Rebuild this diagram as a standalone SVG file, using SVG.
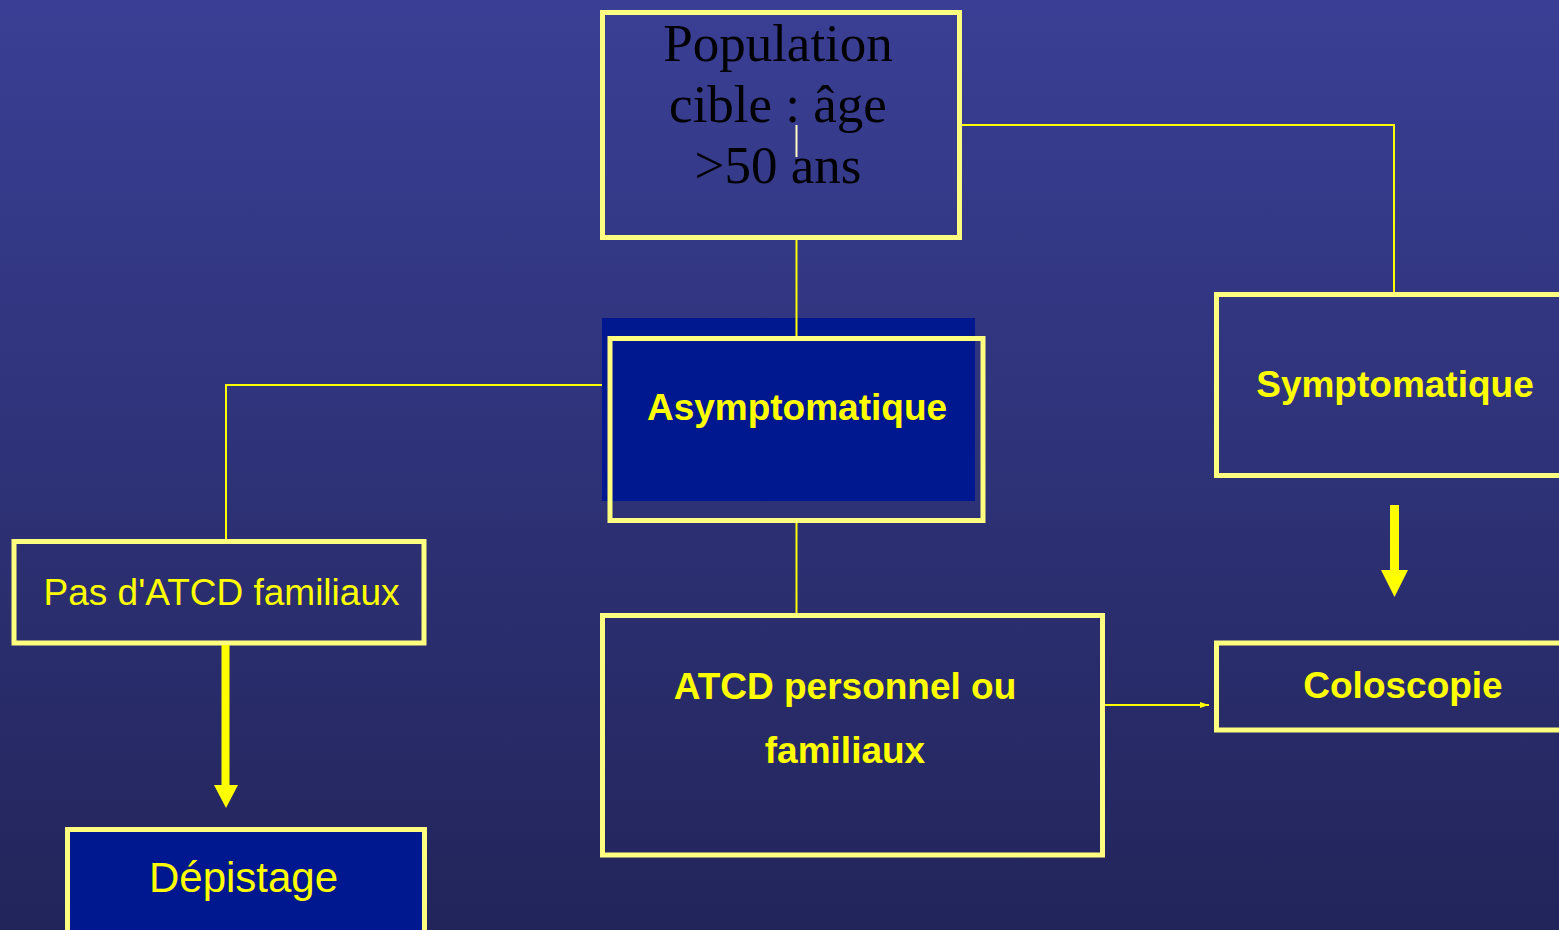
<svg xmlns="http://www.w3.org/2000/svg" width="1559" height="930" viewBox="0 0 1559 930">
<defs>
<linearGradient id="bg" x1="0" y1="0" x2="0" y2="1">
<stop offset="0" stop-color="#3a3f95"/>
<stop offset="1" stop-color="#22255a"/>
</linearGradient>
<marker id="sm" markerWidth="10" markerHeight="8" refX="9" refY="4" orient="auto" markerUnits="userSpaceOnUse">
<path d="M0,1 L9,4 L0,7 z" fill="#ffff00"/>
</marker>
</defs>
<style>
.frame{fill:none;stroke:#ffff80;stroke-width:5}
.fill{fill:#00188f}
.line{fill:none;stroke:#ffff00;stroke-width:2}
.bold{font-family:"Liberation Sans",Arial,sans-serif;font-weight:bold;font-size:37px;fill:#ffff00;text-anchor:middle}
.norm{font-family:"Liberation Sans",Arial,sans-serif;fill:#ffff00;text-anchor:middle}
.serif{font-family:"Liberation Serif","Times New Roman",serif;font-size:53px;fill:#000;text-anchor:middle}
</style>
<rect x="0" y="0" width="1559" height="930" fill="url(#bg)"/>
<g id="population">
<rect class="frame" x="602.5" y="12.5" width="357" height="225"/>
<text class="serif" x="778" y="61">Population</text>
<text class="serif" x="778" y="122">cible : âge</text>
<text class="serif" x="778" y="183">&gt;50 ans</text>
</g>
<g id="asymptomatique">
<rect class="fill" x="602" y="318" width="373" height="183"/>
<rect class="frame" x="610" y="338.5" width="373" height="182"/>
<text class="bold" x="797" y="420">Asymptomatique</text>
</g>
<g id="symptomatique">
<rect class="frame" x="1216.5" y="294.5" width="360" height="181"/>
<text class="bold" x="1395" y="397">Symptomatique</text>
</g>
<g id="coloscopie">
<rect class="frame" x="1216.5" y="643" width="360" height="87"/>
<text class="bold" x="1403" y="698">Coloscopie</text>
</g>
<g id="atcd">
<rect class="frame" x="602.5" y="615.5" width="500" height="239.5"/>
<text class="bold" x="845" y="699">ATCD personnel ou</text>
<text class="bold" x="845" y="763">familiaux</text>
</g>
<g id="pas-atcd">
<rect class="frame" x="14" y="541.5" width="410" height="101.5"/>
<text class="norm" x="221.5" y="605" font-size="37">Pas d'ATCD familiaux</text>
</g>
<g id="depistage">
<rect class="fill" x="67.5" y="829.5" width="357" height="200"/>
<rect class="frame" x="67.5" y="829.5" width="357" height="200"/>
<text class="norm" x="243.5" y="892" font-size="42">Dépistage</text>
</g>
<g id="connectors">
<line class="line" x1="796.5" y1="240" x2="796.5" y2="336"/>
<polyline class="line" points="962,125 1394,125 1394,292"/>
<polyline class="line" points="602,385 226,385 226,539"/>
<line class="line" x1="796.5" y1="523" x2="796.5" y2="613"/>
<line class="line" x1="1105" y1="705" x2="1209" y2="705" marker-end="url(#sm)"/>
<line x1="796.5" y1="125" x2="796.5" y2="157" stroke="#ffffc0" stroke-width="2"/>
<g fill="#ffff00">
<rect x="1390" y="505" width="9" height="66"/>
<polygon points="1381,570 1408,570 1394.5,597"/>
<rect x="221.5" y="645" width="8" height="141"/>
<polygon points="214,785 238,785 226,808"/>
</g>
</g>
</svg>
